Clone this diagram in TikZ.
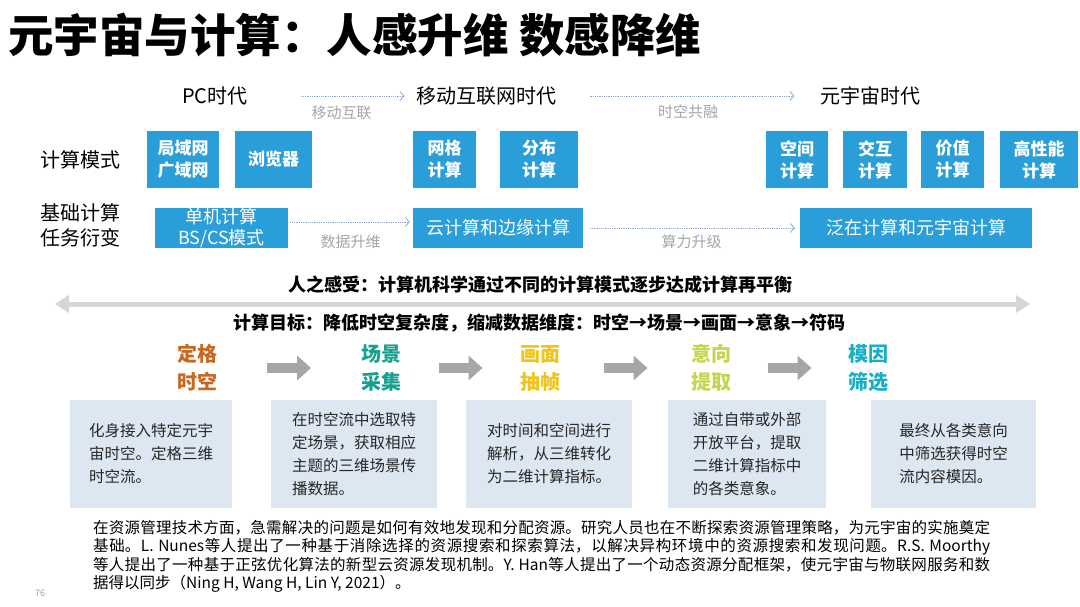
\documentclass[tikz,border=0pt]{standalone}
\usepackage{fontspec}
\setmainfont{Noto Sans CJK SC}
\usetikzlibrary{arrows.meta,calc}
\XeTeXlinebreaklocale "zh"
\XeTeXlinebreakskip=0pt plus 1pt minus 0.2pt
\definecolor{modeblue}{HTML}{2A9ED8}
\definecolor{lightbox}{HTML}{DDE7F2}
\definecolor{dotblue}{HTML}{8EA9C9}
\definecolor{labelgray}{HTML}{A6A6A6}
\definecolor{stepgray}{HTML}{A6A6A6}
\definecolor{balgray}{HTML}{D6D6D6}
\definecolor{bodytext}{HTML}{262626}
\definecolor{fixcolor}{HTML}{C9671F}
\definecolor{scenecolor}{HTML}{17A08E}
\definecolor{framecolor}{HTML}{F0C419}
\definecolor{intentcolor}{HTML}{C6D44E}
\definecolor{memecolor}{HTML}{17AEC6}

\begin{document}
\begin{tikzpicture}[x=1pt, y=-1pt,
  era/.style={font=\fontsize{20}{24}\selectfont, text=black},
  modebox/.style={fill=modeblue, text=white, font=\fontsize{17}{22}\selectfont\bfseries,
    align=center, minimum height=57pt, inner sep=0pt},
  taskbox/.style={fill=modeblue, text=white, font=\fontsize{18}{21}\selectfont,
    align=center, minimum height=40pt, inner sep=0pt},
  dotarrow/.style={densely dotted, thick, draw=dotblue, -{Straight Barb[length=4pt,width=9pt]}},
  arrowlabel/.style={font=\fontsize{15}{18}\selectfont, text=labelgray},
  steptitle/.style={font=\fontsize{20}{28}\selectfont\bfseries, align=center, inner sep=0pt},
  steparrow/.style={draw=stepgray, line width=10pt, -{Triangle[length=14pt,width=24pt]}},
  stepbox/.style={fill=lightbox, minimum height=108pt, align=left, text=bodytext,
    font=\fontsize{15.5}{23}\selectfont}
]
\useasboundingbox (0,0) rectangle (1080,607);
\fill[white] (0,0) rectangle (1080,607);

% title
\node[anchor=west, inner sep=0pt, font=\fontsize{45.5}{48}\selectfont\bfseries] (title) at (8,35)
  {元宇宙与计算：人感升维 数感降维};

% eras
\node[era] (pc) at (215,96) {PC时代};
\node[era] (mob) at (486,96) {移动互联网时代};
\node[era] (meta) at (870,96) {元宇宙时代};
\draw[dotarrow, shorten <=50pt, shorten >=8pt] (pc) -- (mob)
  node[pos=0.56, below=6pt, arrowlabel] (mobl) {移动互联};
\draw[dotarrow, shorten <=30pt, shorten >=22pt] (mob) -- (meta)
  node[midway, below=5pt, arrowlabel] (fusel) {时空共融};

% computing modes
\node[era] (modelabel) at (81,160) {计算模式};
\node[modebox, minimum width=72pt] (lan) at (183,159.5) {局域网\\广域网};
\node[modebox, minimum width=77pt] (browser) at (273.5,159.5) {浏览器};
\node[modebox, minimum width=63pt] (grid) at (444.5,159.5) {网格\\计算};
\node[modebox, minimum width=78pt] (dist) at (539,159.5) {分布\\计算};
\node[modebox, minimum width=62pt] (space) at (797,159.5) {空间\\计算};
\node[modebox, minimum width=64pt] (inter) at (875,159.5) {交互\\计算};
\node[modebox, minimum width=63pt] (value) at (952.5,159.5) {价值\\计算};
\node[modebox, minimum width=78pt] (hpc) at (1039,159.5) {高性能\\计算};

% basic tasks
\node[era, align=left, font=\fontsize{20}{25}\selectfont] (tasklabel) at (81,225.5) {基础计算\\任务衍变};
\node[taskbox, minimum width=133pt] (single) at (221.5,228) {单机计算\\BS/CS模式};
\node[taskbox, minimum width=170pt] (cloud) at (498,228) {云计算和边缘计算};
\node[taskbox, minimum width=232pt] (ubiq) at (916,228) {泛在计算和元宇宙计算};
\draw[dotarrow, shorten <=2pt, shorten >=3pt] ([yshift=6pt]single.east) -- ([yshift=6pt]cloud.west)
  node[midway, below=9pt, arrowlabel] (datal) {数据升维};
\draw[dotarrow, shorten <=7pt, shorten >=5pt] (cloud) -- (ubiq)
  node[midway, below=3pt, arrowlabel] (powerl) {算力升级};

% balance line
\node[font=\fontsize{18}{20}\selectfont\bfseries] (feel) at (540,285)
  {人之感受：计算机科学通过不同的计算模式逐步达成计算再平衡};
\coordinate (bal-l) at (55,304);
\coordinate (bal-r) at (1030,304);
\draw[draw=balgray, line width=5pt,
  {Triangle[length=14pt,width=17pt]}-{Triangle[length=14pt,width=17pt]}] (bal-l) -- (bal-r);
\node[font=\fontsize{18}{20}\selectfont\bfseries] (goal) at (539,323)
  {计算目标：降低时空复杂度，缩减数据维度：时空→场景→画面→意象→符码};

% steps
\node[steptitle, text=fixcolor] (t1) at (197,368) {定格\\时空};
\node[steptitle, text=scenecolor] (t2) at (381,368) {场景\\采集};
\node[steptitle, text=framecolor] (t3) at (540,368) {画面\\抽帧};
\node[steptitle, text=intentcolor] (t4) at (711,368) {意向\\提取};
\node[steptitle, text=memecolor] (t5) at (868,368) {模因\\筛选};
\draw[steparrow] ($(t1)!0.5!(t2)-(22,0)$) -- ($(t1)!0.5!(t2)+(22,0)$);
\draw[steparrow] ($(t2)!0.5!(t3)-(22,0)$) -- ($(t2)!0.5!(t3)+(22,0)$);
\draw[steparrow] ($(t3)!0.5!(t4)-(22,0)$) -- ($(t3)!0.5!(t4)+(22,0)$);
\draw[steparrow] ($(t4)!0.5!(t5)-(22,0)$) -- ($(t4)!0.5!(t5)+(22,0)$);

\node[stepbox, minimum width=162pt] (b1) at (151,454) {化身接入特定元宇\\宙时空。定格三维\\时空流。};
\node[stepbox, minimum width=166pt] (b2) at (354,454) {在时空流中选取特\\定场景，获取相应\\主题的三维场景传\\播数据。};
\node[stepbox, minimum width=166pt] (b3) at (549,454) {对时间和空间进行\\解析，从三维转化\\为二维计算指标。};
\node[stepbox, minimum width=158pt] (b4) at (747,454) {通过自带或外部\\开放平台，提取\\二维计算指标中\\的各类意象。};
\node[stepbox, minimum width=165pt] (b5) at (953.5,454) {最终从各类意向\\中筛选获得时空\\流内容模因。};

% note
\node[anchor=north west, inner sep=0pt, text width=897pt, align=justify, text=black,
  font=\fontsize{15.5}{18.5}\selectfont] (note) at (93,520)
  {\noindent 在资源管理技术方面，急需解决的问题是如何有效地发现和分配资源。研究人员也在不断探索资源管理策略，为元宇宙的实施奠定\linebreak
  基础。L. Nunes等人提出了一种基于消除选择的资源搜索和探索算法，以解决异构环境中的资源搜索和发现问题。R.S. Moorthy\linebreak
  等人提出了一种基于正弦优化算法的新型云资源发现机制。Y. Han等人提出了一个动态资源分配框架，使元宇宙与物联网服务和数\linebreak
  据得以同步（Ning H, Wang H, Lin Y, 2021）。};
\node[font=\fontsize{9}{10}\selectfont, text=labelgray] (pageno) at (40,593) {76};
\end{tikzpicture}
\end{document}
